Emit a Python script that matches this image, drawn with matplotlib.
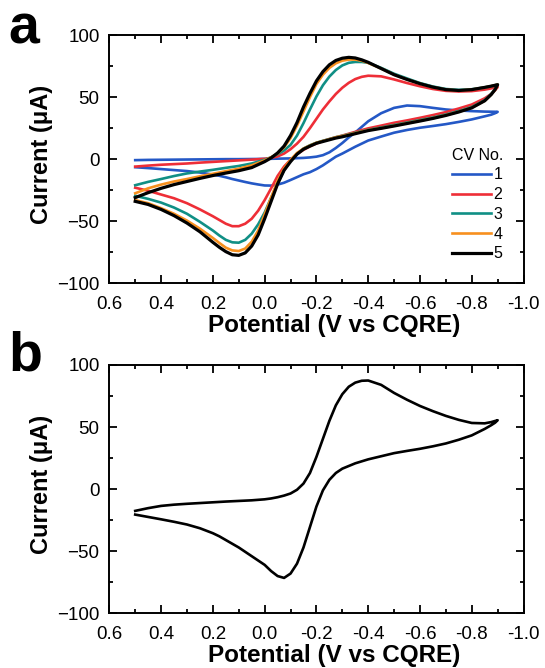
import matplotlib
matplotlib.use("Agg")
import matplotlib.pyplot as plt
from matplotlib.ticker import MultipleLocator

plt.rcParams['font.family'] = ['Liberation Sans', 'DejaVu Sans']

#%% data - panel a (5 CV cycles)
# forward sweep 0.5 -> -0.9 V
v_fwd = [0.5, 0.45, 0.4, 0.35, 0.3, 0.25, 0.2, 0.15, 0.1, 0.05, 0.0, -0.025,
         -0.05, -0.075, -0.1, -0.125, -0.15, -0.175, -0.2, -0.225, -0.25,
         -0.275, -0.3, -0.325, -0.35, -0.375, -0.4, -0.45, -0.5, -0.55, -0.6,
         -0.65, -0.7, -0.75, -0.8, -0.85, -0.875, -0.9]
# reverse sweep -0.9 -> 0.5 V
v_rev = [-0.9, -0.89, -0.875, -0.85, -0.8, -0.75, -0.7, -0.65, -0.6, -0.55,
         -0.5, -0.45, -0.4, -0.35, -0.3, -0.275, -0.25, -0.225, -0.2, -0.175,
         -0.15, -0.125, -0.1, -0.075, -0.05, -0.025, 0.0, 0.025, 0.05, 0.075,
         0.1, 0.125, 0.15, 0.175, 0.2, 0.25, 0.3, 0.35, 0.4, 0.45, 0.5]

cv1_fwd = [-0.8, -0.6, -0.5, -0.4, -0.3, -0.2, -0.1, 0, 0, 0.1, 0.2, 0.3,
           0.4, 0.5, 0.6, 0.8, 1, 1.4, 2, 3.2, 5.5,
           9, 13, 17.5, 21.5, 26, 30.5, 37, 41.3, 43.2, 42.7,
           41.3, 40, 39.2, 38.7, 38.3, 38.2, 38.1]
cv1_rev = [38.1, 37, 35.8, 34.5, 32, 30, 28.2, 26.7, 25.3, 23.5,
           21.3, 18.2, 15, 10, 4.5, 2, -1.5, -5, -8, -10.5,
           -12.2, -14.5, -16.8, -19, -20.5, -21.3, -21.2, -20.4, -19.5, -18.4,
           -17.2, -16, -14.6, -13.4, -12.4, -10.8, -9.6, -8.8, -8, -7.2, -6.5]

cv2_fwd = [-6, -5.2, -4.5, -4, -3.5, -2.8, -2.2, -1.6, -1, -0.4, 0.3, 1,
           2.2, 4.5, 8, 12.5, 18, 25, 32.5, 40, 46.5,
           52.5, 57.5, 61.5, 64.5, 66.3, 67.2, 66.7, 64.2, 61.3, 58.7,
           56.5, 55, 54.5, 54.8, 56, 57, 58]
cv2_rev = [58, 55.5, 52.5, 49, 44, 40.8, 37.9, 35.5, 33.3, 31.2,
           29.3, 27, 24.8, 22, 19, 17.6, 16.2, 14.6, 12.6, 10.3,
           7.5, 4, -0.5, -6, -13.5, -23.5, -33, -41.5, -48, -52,
           -54, -54, -52, -49, -46, -40.5, -35.5, -31.5, -28.5, -25.5, -23]

cv3_fwd = [-21, -18.3, -16, -13.6, -11.5, -10, -8.6, -7, -5.5, -3.5, -0.5, 1.5,
           4, 7, 11.5, 19, 29, 40, 50.5, 59.5, 66.5,
           71.8, 75.5, 77.6, 78.3, 78.3, 77.6, 73.5, 68.8, 65, 61.3,
           58.5, 56.5, 55.8, 56.3, 57.8, 58.8, 60]
cv3_rev = [60, 56.5, 52.5, 47.5, 42, 38.7, 36, 33.5, 31.5, 29.5,
           27.5, 25.5, 23.6, 21.3, 18.8, 17.7, 16.2, 14.8, 13.2, 11.2,
           8.5, 4, -1.5, -9, -19.5, -31, -43, -52.5, -60, -65,
           -67.3, -67, -65, -61.5, -57.5, -50.5, -44, -39, -35, -32, -29.5]

cv4_fwd = [-27.5, -23.5, -20.5, -18, -16, -13.8, -11.8, -9.7, -7.7, -5, -1, 1.5,
           4.5, 9.5, 17, 27, 38.5, 50, 60.5, 68, 73.5,
           77.2, 79.3, 80.2, 80.2, 79.3, 77.5, 73, 68, 64.2, 60.8,
           58, 56, 55.3, 56, 57.8, 58.8, 60]
cv4_rev = [60, 56, 52, 47, 41.5, 38.2, 35.5, 33, 31, 29,
           27, 25, 23.4, 21, 18.6, 17.6, 16, 14.6, 13.2, 11,
           8.5, 5, -0.5, -7.5, -17.5, -31, -44.5, -57.5, -66.5, -72,
           -74, -73.5, -71.3, -67.5, -63.5, -56, -49.5, -44, -39.5, -35.5, -33]

cv5_fwd = [-31, -27, -23.5, -20.5, -18, -15.5, -13.2, -11.2, -9.3, -6.8, -2, 1,
           5, 10.5, 19, 29.5, 42, 53, 63, 70.5, 76,
           79.5, 81.3, 82, 81.5, 80, 78, 73, 68, 64.2, 60.8,
           58, 56, 55.3, 56, 57.8, 58.8, 60]
cv5_rev = [60, 56, 52, 47, 41.3, 38, 35.2, 32.8, 30.7, 28.7,
           26.7, 24.8, 23, 20.5, 18, 17, 15.6, 14.2, 12.8, 10.5,
           8, 4, -2, -9, -20, -34, -48, -61, -70, -75.5,
           -77.5, -77, -74.5, -71, -67, -58.5, -51.5, -45.5, -40.5, -36.5, -34]

cv_labels = ['1', '2', '3', '4', '5']
cv_colors = ['#2458c6', '#ee2e37', '#108f85', '#f7901e', '#000000']
cv_widths = [1.9, 1.9, 1.9, 1.9, 2.3]

#%% data - panel b (single CV)
b_fwd = [-17.5, -15.3, -13.5, -12.5, -11.8, -11.2, -10.6, -10, -9.5, -9, -8.2, -7.5,
         -6.5, -5.2, -3.5, -0.5, 4.5, 13, 26, 40.5, 55,
         67.5, 76.5, 82.5, 85.8, 87.3, 87.5, 84, 77.5, 72, 67,
         62.8, 59, 55.8, 53.3, 53, 54, 55.5]
b_rev = [55.5, 53.5, 51.5, 48.5, 43.3, 39.8, 36.8, 34.5, 32.5, 30.8,
         29, 26.5, 24, 20.8, 16.5, 13, 7.5, -1, -14, -30.5,
         -47, -60, -68, -71.5, -70, -66, -61, -57.5, -54, -50.5,
         -47, -44, -41, -38, -35.5, -31.5, -28.5, -26.3, -24.3, -22.4, -20.5]

#%% figure
fig = plt.figure(figsize=(5.45, 6.68), dpi=100)
ax_a = fig.add_axes([0.2006, 0.5759, 0.760, 0.3717])
ax_b = fig.add_axes([0.2006, 0.0819, 0.760, 0.3717])

fwd_a = [cv1_fwd, cv2_fwd, cv3_fwd, cv4_fwd, cv5_fwd]
rev_a = [cv1_rev, cv2_rev, cv3_rev, cv4_rev, cv5_rev]
for f, r, lab, c, w in zip(fwd_a, rev_a, cv_labels, cv_colors, cv_widths):
    ax_a.plot(v_fwd + v_rev, f + r, color=c, lw=w, label=lab,
              solid_joinstyle='round')

ax_b.plot(v_fwd + v_rev, b_fwd + b_rev, color='black', lw=1.9,
          solid_joinstyle='round')

for ax in (ax_a, ax_b):
    ax.set_xlim(0.6, -1.0)
    ax.set_ylim(-100, 100)
    ax.xaxis.set_major_locator(MultipleLocator(0.2))
    ax.xaxis.set_minor_locator(MultipleLocator(0.1))
    ax.yaxis.set_major_locator(MultipleLocator(50))
    ax.yaxis.set_minor_locator(MultipleLocator(25))
    ax.xaxis.set_major_formatter(plt.FuncFormatter(lambda v, p: f"{v:.1f}"))
    ax.tick_params(which='both', direction='in', top=True, right=True,
                   width=1.3, labelsize=13.5)
    ax.tick_params(axis='x', which='major', pad=9)
    ax.tick_params(axis='y', which='major', pad=7)
    ax.tick_params(which='major', length=5.5)
    ax.tick_params(which='minor', length=3)
    for s in ax.spines.values():
        s.set_linewidth(1.4)
    ax.set_xlabel('Potential (V vs CQRE)', fontsize=17.5, fontweight='bold',
                  x=0.5425, labelpad=1)
    ax.set_ylabel('Current (μA)', fontsize=17, fontweight='bold',
                  y=0.52, labelpad=3)

leg = ax_a.legend(title='CV No.', loc='lower right', frameon=False,
                  fontsize=11.5, title_fontsize=11.5, handlelength=2.45,
                  handletextpad=0.15, labelspacing=0.3,
                  bbox_to_anchor=(0.985, 0.03))

fig.text(0.015, 0.935, 'a', fontsize=40, fontweight='bold')
fig.text(0.015, 0.445, 'b', fontsize=40, fontweight='bold')

fig.savefig('out.png', dpi=100)
